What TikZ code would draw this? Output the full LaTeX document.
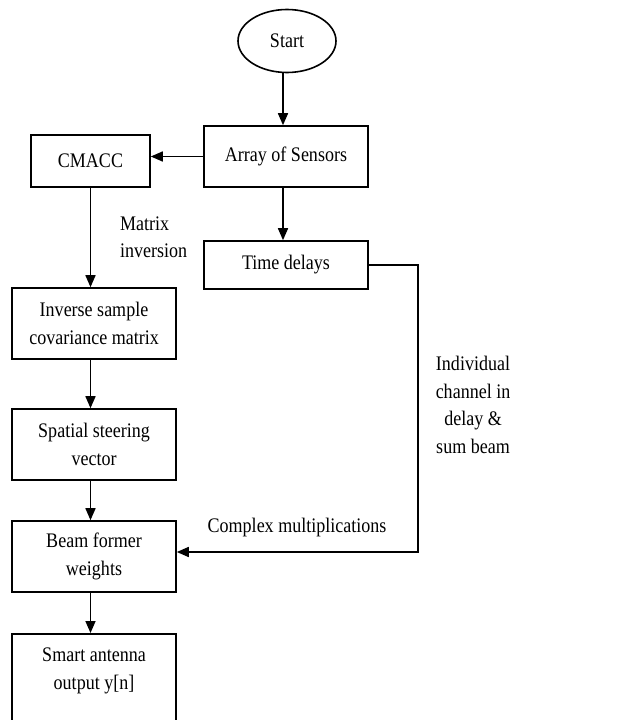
\documentclass[tikz,border=0pt]{standalone}
\usepackage{fontspec}
\setmainfont[FakeStretch=0.87]{Liberation Serif}
\usetikzlibrary{shapes.geometric,arrows.meta}
\begin{document}
\begin{tikzpicture}[x=1bp,y=-1bp,
  every node/.style={font=\fontsize{20.7bp}{27.5bp}\selectfont, inner sep=0pt},
  box/.style={draw, line width=1.6bp, rectangle, align=center},
  lbl/.style={align=center},
  arrow/.style={line width=1.6bp, -{Triangle[length=12bp,width=10bp]}},
  line/.style={line width=1.6bp}]
\clip (0,0) rectangle (628,720);
\useasboundingbox (0,0) rectangle (628,720);
\fill[white] (0,0) rectangle (628,720);

\node[draw, line width=1.6bp, ellipse, minimum width=98bp, minimum height=63bp] (start) at (287,41) {Start};
\node[box, minimum width=164bp, minimum height=61bp] (arr) at (286,156.5) {Array of Sensors};
\node[box, minimum width=119bp, minimum height=52bp] (cmacc) at (90.5,161) {CMACC};
\node[box, minimum width=164bp, minimum height=48bp] (td) at (286,265) {Time delays};
\node[box, minimum width=164bp, minimum height=71bp] (inv) at (94,323.5) {Inverse sample\\covariance matrix};
\node[box, minimum width=164bp, minimum height=71bp] (sp) at (94,444.5) {Spatial steering\\vector};
\node[box, minimum width=164bp, minimum height=71bp] (bf) at (94,556.5) {Beam former\\weights};
\node[box, minimum width=164bp, minimum height=120bp, anchor=north] (sm) at (94,633) {};
\node[lbl] (smtext) at (94,671) {Smart antenna\\output y[n]};

\node[align=left, anchor=west] (mi) at (120,237) {Matrix\\inversion};
\node[lbl] (ind) at (473,405) {Individual\\channel in\\delay \&\\sum beam};
\node[lbl] (cm) at (297,528) {Complex multiplications};

\coordinate (turn) at (418,400);

\draw[arrow] (start.south -| 283,0) -- (arr.north -| 283,0);
\draw[arrow] (arr.west) -- (arr.west -| cmacc.east);
\draw[arrow] (arr.south -| 283,0) -- (td.north -| 283,0);
\draw[arrow] (cmacc.south) -- (inv.north -| cmacc.south);
\draw[arrow] (inv.south -| cmacc.south) -- (sp.north -| cmacc.south);
\draw[arrow] (sp.south -| cmacc.south) -- (bf.north -| cmacc.south);
\draw[arrow] (bf.south -| cmacc.south) -- (sm.north -| cmacc.south);
\draw[arrow] (td.east) -| (turn) |- ([yshift=4.5bp]bf.east);
\end{tikzpicture}
\end{document}
